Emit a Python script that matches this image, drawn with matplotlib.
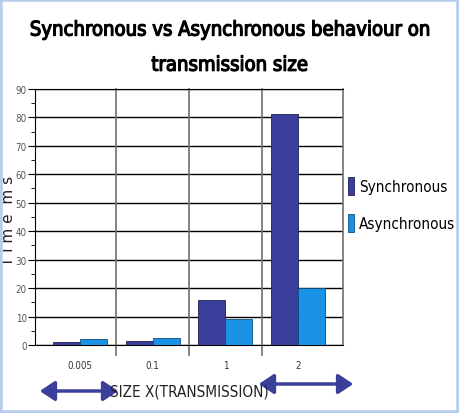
import numpy as np
import matplotlib.pyplot as plt
from matplotlib import font_manager
from matplotlib import patheffects
from matplotlib.patches import FancyArrowPatch, Rectangle
from matplotlib.ticker import MultipleLocator

sizes = ["0.005", "0.1", "1", "2"]
sync_ms = [1.2, 1.5, 16, 81]
async_ms = [2.3, 2.6, 9, 20]

c_sync = "#3b3f9c"
c_async = "#1a93e6"


# look for a narrow face among the installed fonts
def wnum(w):
    return w if isinstance(w, int) else font_manager.weight_dict.get(str(w).lower(), 400)

cond = [f for f in font_manager.fontManager.ttflist
        if ("condensed" in str(f.stretch).lower() or "Narrow" in f.name or "Condensed" in f.name)
        and f.style == "normal"]
reg = sorted([f for f in cond if wnum(f.weight) == 400], key=lambda f: f.fname)
narrow_fp = font_manager.FontProperties(fname=reg[0].fname) if reg else font_manager.FontProperties(family="DejaVu Sans")

# no bold narrow face installed: thicken the regular one with a stroke
title_fp = narrow_fp.copy()
title_fp.set_size(14.5)
thick = [patheffects.withStroke(linewidth=0.9, foreground="black")]

fig = plt.figure(figsize=(4.59, 4.14), dpi=100)
ax = fig.add_axes([0.0763, 0.164, 0.671, 0.619])

x = np.arange(len(sizes))
w = 0.37
ax.bar(x - w / 2, sync_ms, w, color=c_sync, edgecolor="#1e2050", linewidth=0.6, zorder=3, label="Synchronous")
ax.bar(x + w / 2, async_ms, w, color=c_async, edgecolor="#0d4f80", linewidth=0.6, zorder=3, label="Asynchronous")

ax.set_xlim(-0.62, 3.62)
ax.set_ylim(0, 90)
ax.yaxis.set_major_locator(MultipleLocator(10))
ax.yaxis.set_minor_locator(MultipleLocator(5))
ax.grid(axis="y", which="major", color="black", linewidth=1.0, zorder=1)
for b in [0.5, 1.5, 2.5]:
    ax.axvline(b, ymin=-0.04, ymax=1, color="#707070", linewidth=1.2, clip_on=False, zorder=2)

ax.set_xticks(x)
ax.set_xticklabels(sizes)
ax.tick_params(axis="x", length=0, pad=11, labelsize=7, labelcolor="#333333")
ax.tick_params(axis="y", which="major", length=5, labelsize=7, labelcolor="#555555", pad=1)
ax.tick_params(axis="y", which="minor", length=3)
for lab in ax.get_yticklabels() + ax.get_xticklabels():
    lab.set_fontproperties(narrow_fp)
    lab.set_fontsize(7)
for s in ["left", "bottom", "top"]:
    ax.spines[s].set_color("black")
ax.spines["right"].set_color("#707070")
ax.spines["right"].set_linewidth(1.2)

ax.set_ylabel("T i m e  m s", fontsize=11, color="#222222", va="center")
ax.yaxis.set_label_coords(-0.085, 0.49)

fig.text(0.5, 0.925, "Synchronous vs Asynchronous behaviour on", ha="center", va="center",
         fontproperties=title_fp, path_effects=thick)
fig.text(0.5, 0.84, "transmission size", ha="center", va="center",
         fontproperties=title_fp, path_effects=thick)

fig.text(0.412, 0.053, "SIZE X(TRANSMISSION)", ha="center", va="center",
         fontproperties=narrow_fp, fontsize=11, color="#222222")
for x0, x1, y in [(37, 121, 22), (256, 356, 29)]:
    fig.patches.append(FancyArrowPatch((x0 / 459, y / 414), (x1 / 459, y / 414),
                                       transform=fig.transFigure,
                                       arrowstyle="<|-|>,head_length=0.45,head_width=0.3",
                                       color=c_sync, linewidth=2.5, mutation_scale=20))

prop = narrow_fp.copy()
prop.set_size(11)
leg = ax.legend(loc="upper left", bbox_to_anchor=(0.97, 0.71), frameon=False,
                handlelength=0.4, handleheight=1.4, handletextpad=0.35, labelspacing=1.3,
                prop=prop)

fig.patches.append(Rectangle((0, 0), 1, 1, transform=fig.transFigure, fill=False,
                             edgecolor="#b8cef0", linewidth=4))

fig.savefig("out.png", dpi=100)
